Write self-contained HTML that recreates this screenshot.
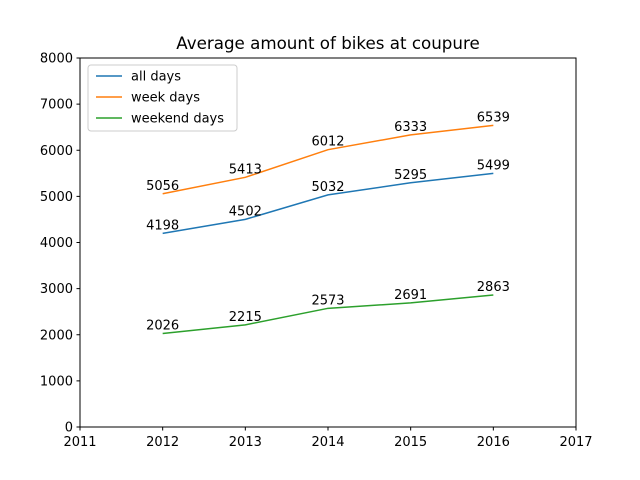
<!DOCTYPE html>
<html><head><meta charset="utf-8"><style>
body{margin:0;background:#fff}
svg{display:block;font-family:"DejaVu Sans","Liberation Sans",sans-serif}
</style></head><body>
<svg id="chart" width="640" height="480">
<rect width="640" height="480" fill="#fff"/>
<text x="328" y="49" font-size="16.7" text-anchor="middle">Average amount of bikes at coupure</text>
<g id="axes"></g>
<g id="series"></g>
<rect x="80" y="58" width="496" height="369" fill="none" stroke="#000" stroke-width="1"/>
<g id="legend"></g>
</svg>
<script>
const years=[2012,2013,2014,2015,2016];
const allDays=[4198,4502,5032,5295,5499];
const weekDays=[5056,5413,6012,6333,6539];
const weekendDays=[2026,2215,2573,2691,2863];
const xTicks=[2011,2012,2013,2014,2015,2016,2017];
const yTicks=[0,1000,2000,3000,4000,5000,6000,7000,8000];
const seriesNames=["all days","week days","weekend days"];
const colors=["#1f77b4","#ff7f0e","#2ca02c"];
const NS="http://www.w3.org/2000/svg";
const X=v=>80+(v-2011)*(496/6);
const Y=v=>427-v*(369/8000);
function mk(t,a,p){const e=document.createElementNS(NS,t);for(const k in a)e.setAttribute(k,a[k]);p.appendChild(e);return e;}
const ax=document.getElementById('axes');
xTicks.forEach(t=>{
 const l=mk('line',{x1:X(t),x2:X(t),y1:427,y2:430.5,stroke:'#000'},ax);
 
 
 const tx=mk('text',{x:X(t),y:446,'font-size':13,'text-anchor':'middle'},ax);tx.textContent=t;
 
 
});
yTicks.forEach(t=>{
 const l=mk('line',{x1:76.5,x2:80,y1:Y(t),y2:Y(t),stroke:'#000'},ax);
 
 
 const tx=mk('text',{x:73,y:Y(t)+4.5,'font-size':13,'text-anchor':'end'},ax);tx.textContent=t;
 
 
});
const sg=document.getElementById('series');
[allDays,weekDays,weekendDays].forEach((d,i)=>{
 const p=mk('polyline',{points:d.map((v,j)=>X(years[j])+','+Y(v)).join(' '),fill:'none',stroke:colors[i],'stroke-width':1.5},sg);
 
 
 d.forEach((v,j)=>{
  const t=mk('text',{x:X(years[j]),y:Y(v)-4,'font-size':13,'text-anchor':'middle'},sg);t.textContent=v;
  
  
 });
});
const lg=document.getElementById('legend');
mk('rect',{x:88,y:65,width:149,height:66,rx:3,fill:'#fff','fill-opacity':0.8,stroke:'#ccc'},lg);
seriesNames.forEach((n,i)=>{
 const y=76+i*21;
 const l=mk('line',{x1:96,x2:122,y1:y,y2:y,stroke:colors[i],'stroke-width':1.5},lg);
 
 
 const t=mk('text',{x:131,y:y+4.5,'font-size':13},lg);t.textContent=n;
 
 
});
</script>
</body></html>
